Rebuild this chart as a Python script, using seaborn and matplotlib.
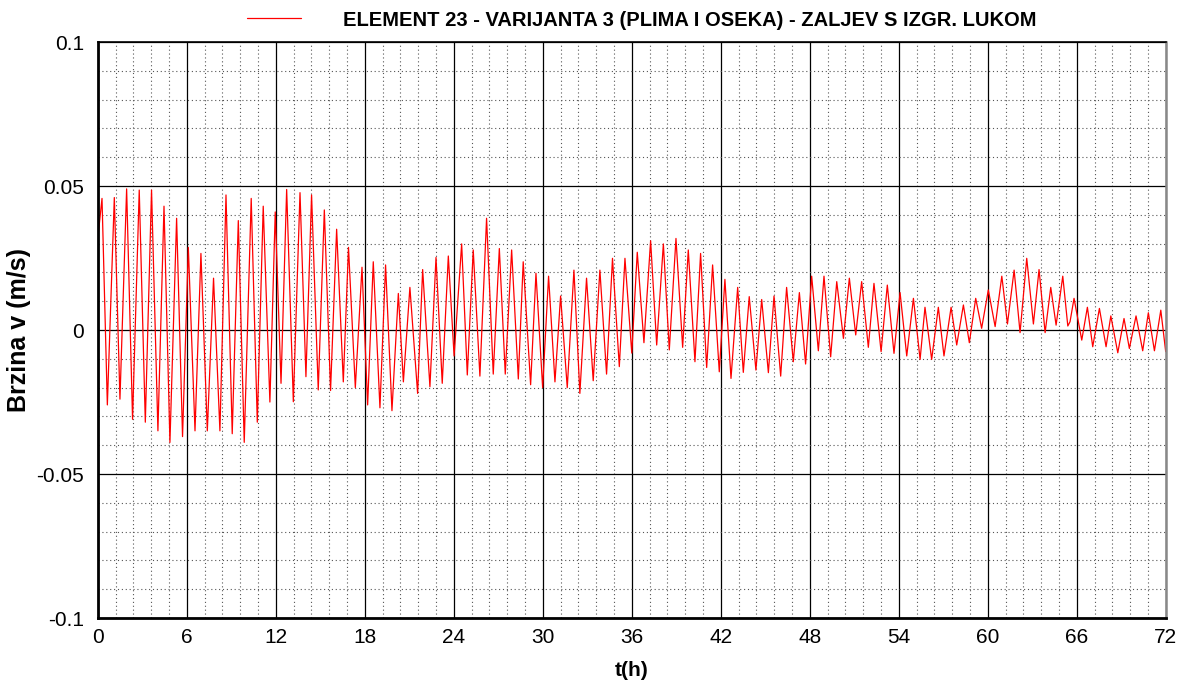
import pandas as pd
import matplotlib
matplotlib.use("Agg")
import matplotlib.pyplot as plt
from matplotlib.ticker import MultipleLocator, FuncFormatter
import seaborn as sns

# extrema (time in hours, velocity in m/s)
time_h = [
    0.00, 0.28, 0.64, 1.11, 1.49, 1.94, 2.34, 2.79, 3.20, 3.62, 4.05, 4.46,
    4.86, 5.31, 5.71, 6.10, 6.55, 6.95, 7.38, 7.80, 8.23, 8.64, 9.06, 9.47,
    9.87, 10.34, 10.75, 11.15, 11.60, 11.96, 12.35, 12.73, 13.18, 13.63, 14.03, 14.41,
    14.86, 15.27, 15.69, 16.10, 16.55, 16.90, 17.36, 17.81, 18.19, 18.57, 19.02, 19.40,
    19.83, 20.26, 20.60, 21.04, 21.56, 21.90, 22.39, 22.80, 23.22, 23.63, 24.02, 24.53,
    24.91, 25.31, 25.76, 26.21, 26.66, 27.07, 27.47, 27.90, 28.35, 28.68, 29.18, 29.54,
    29.99, 30.39, 30.82, 31.20, 31.65, 32.10, 32.50, 32.95, 33.40, 33.85, 34.30, 34.70,
    35.16, 35.54, 36.00, 36.37, 36.82, 37.27, 37.68, 38.13, 38.53, 38.98, 39.43, 39.81,
    40.26, 40.64, 41.05, 41.45, 41.90, 42.28, 42.69, 43.14, 43.52, 43.92, 44.37, 44.76,
    45.21, 45.59, 46.04, 46.44, 46.89, 47.30, 47.72, 48.13, 48.58, 48.96, 49.41, 49.82,
    50.27, 50.67, 51.10, 51.50, 51.95, 52.33, 52.81, 53.23, 53.68, 54.09, 54.54, 54.99,
    55.44, 55.77, 56.22, 56.67, 57.05, 57.53, 57.91, 58.36, 58.76, 59.19, 59.59, 60.04,
    60.50, 60.95, 61.33, 61.78, 62.18, 62.63, 63.08, 63.46, 63.87, 64.25, 64.61, 65.06,
    65.40, 65.55, 65.82, 66.34, 66.72, 67.08, 67.53, 67.98, 68.30, 68.77, 69.19, 69.55,
    70.00, 70.45, 70.83, 71.24, 71.67, 72.00,
]
velocity = [
    0.0320, 0.0457, -0.0260, 0.0460, -0.0240, 0.0490, -0.0310, 0.0486, -0.0320, 0.0486, -0.0350, 0.0430,
    -0.0390, 0.0388, -0.0370, 0.0287, -0.0350, 0.0266, -0.0350, 0.0180, -0.0350, 0.0469, -0.0360, 0.0380,
    -0.0390, 0.0457, -0.0320, 0.0430, -0.0250, 0.0410, -0.0185, 0.0488, -0.0249, 0.0477, -0.0162, 0.0469,
    -0.0208, 0.0417, -0.0210, 0.0350, -0.0180, 0.0287, -0.0200, 0.0218, -0.0260, 0.0237, -0.0270, 0.0226,
    -0.0280, 0.0127, -0.0180, 0.0148, -0.0220, 0.0210, -0.0197, 0.0252, -0.0185, 0.0257, -0.0090, 0.0299,
    -0.0156, 0.0278, -0.0160, 0.0388, -0.0153, 0.0283, -0.0153, 0.0278, -0.0170, 0.0237, -0.0190, 0.0197,
    -0.0200, 0.0187, -0.0180, 0.0118, -0.0200, 0.0208, -0.0220, 0.0180, -0.0176, 0.0208, -0.0153, 0.0249,
    -0.0127, 0.0249, -0.0080, 0.0270, -0.0044, 0.0310, -0.0052, 0.0299, -0.0069, 0.0318, -0.0060, 0.0278,
    -0.0110, 0.0266, -0.0130, 0.0226, -0.0145, 0.0176, -0.0168, 0.0148, -0.0147, 0.0116, -0.0139, 0.0106,
    -0.0148, 0.0118, -0.0160, 0.0148, -0.0110, 0.0130, -0.0118, 0.0187, -0.0072, 0.0187, -0.0093, 0.0168,
    -0.0029, 0.0180, -0.0017, 0.0168, -0.0060, 0.0162, -0.0075, 0.0156, -0.0081, 0.0130, -0.0090, 0.0110,
    -0.0102, 0.0079, -0.0102, 0.0079, -0.0090, 0.0079, -0.0052, 0.0087, -0.0044, 0.0110, 0.0006, 0.0139,
    0.0012, 0.0187, 0.0021, 0.0208, -0.0009, 0.0249, 0.0021, 0.0210, -0.0009, 0.0148, 0.0017, 0.0187,
    0.0014, 0.0029, 0.0110, -0.0035, 0.0079, -0.0058, 0.0075, -0.0058, 0.0049, -0.0079, 0.0040, -0.0064,
    0.0049, -0.0072, 0.0060, -0.0072, 0.0069, -0.0075,
]

series_label = "ELEMENT 23 - VARIJANTA 3 (PLIMA I OSEKA) - ZALJEV S IZGR. LUKOM"

df = pd.DataFrame({"t(h)": time_h, "v": velocity})

sns.set_style("white")
plt.rcParams["font.family"] = ["Liberation Sans", "DejaVu Sans"]
plt.rcParams["axes.unicode_minus"] = False
plt.rcParams["text.color"] = "black"
plt.rcParams["axes.labelcolor"] = "black"
plt.rcParams["xtick.color"] = "black"
plt.rcParams["ytick.color"] = "black"

fig = plt.figure(figsize=(11.89, 6.89), dpi=100)
ax = fig.add_axes([0.0823, 0.103, 0.8981, 0.836])

sns.lineplot(data=df, x="t(h)", y="v", color="red", linewidth=0.9,
             sort=False, estimator=None, label=series_label, ax=ax, legend=False)

ax.set_xlim(0, 72)
ax.set_ylim(-0.1, 0.1)
ax.xaxis.set_major_locator(MultipleLocator(6))
ax.xaxis.set_minor_locator(MultipleLocator(1.2))
ax.yaxis.set_major_locator(MultipleLocator(0.05))
ax.yaxis.set_minor_locator(MultipleLocator(0.01))
ax.yaxis.set_major_formatter(FuncFormatter(lambda v, p: f"{round(v, 4):g}" if abs(v) > 1e-9 else "0"))

ax.grid(which="major", color="black", linewidth=0.9, linestyle="-")
ax.grid(which="minor", color="#555555", linewidth=0.8, linestyle=(0, (1, 2.5)))
ax.set_axisbelow(True)

ax.tick_params(which="major", direction="in", length=10, width=1.2, color="black",
               labelcolor="black", labelsize=15, top=False, right=False)
ax.tick_params(axis="x", which="major", pad=7)
ax.tick_params(axis="y", which="major", pad=10)
ax.tick_params(which="minor", direction="in", length=5, width=0.9, color="black",
               top=False, right=False)

for side in ["left", "bottom"]:
    ax.spines[side].set_color("black")
    ax.spines[side].set_linewidth(2)
ax.spines["top"].set_color("black")
ax.spines["top"].set_linewidth(1.2)
ax.spines["right"].set_color("#888888")
ax.spines["right"].set_linewidth(1.8)

ax.set_xlabel("t(h)", fontsize=15, fontweight="bold", labelpad=10, color="black")
ax.set_ylabel("Brzina v (m/s)", fontsize=18, fontweight="bold", labelpad=4, color="black")

handles, labels = ax.get_legend_handles_labels()
leg = fig.legend(handles, labels, loc="center", bbox_to_anchor=(642 / 1189, 1 - 20 / 689),
                 frameon=False, handlelength=2.65, handletextpad=2.1,
                 prop={"weight": "bold", "size": 14.5})
for txt in leg.get_texts():
    txt.set_color("black")

fig.savefig("out.png", dpi=100)
